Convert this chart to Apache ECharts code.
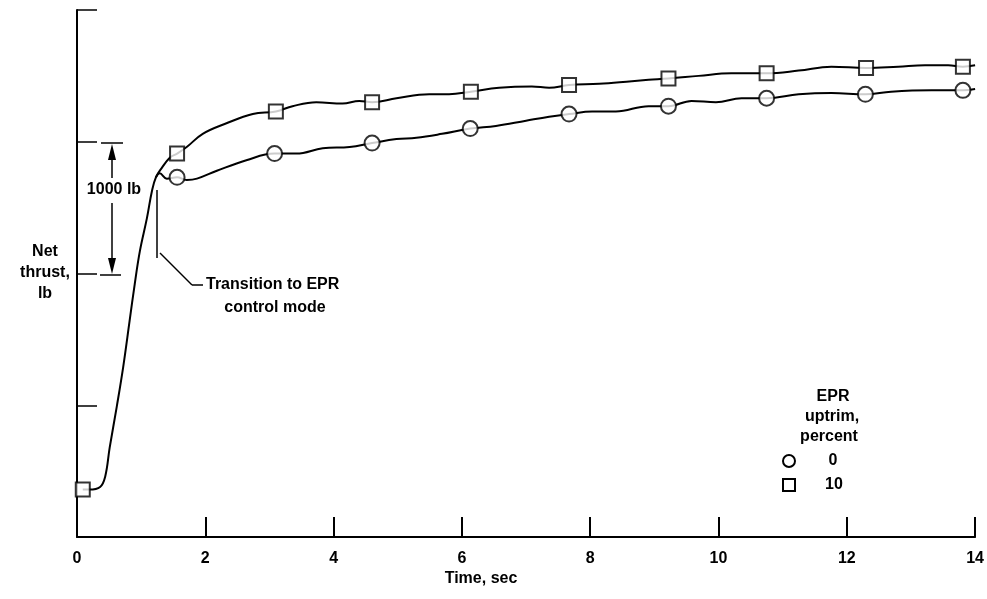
<!DOCTYPE html>
<html>
<head>
<meta charset="utf-8">
<script src="https://cdn.jsdelivr.net/npm/echarts@6/dist/echarts.min.js"></script>
<style>
  html, body { margin: 0; padding: 0; background: #fff; }
  #main { width: 987px; height: 599px; }
</style>
</head>
<body>
<div id="main"></div>
<script>
// time ticks (sec)
var timeTicks = [0, 2, 4, 6, 8, 10, 12, 14];

// traced curve, 10 percent uptrim (thrust in 1000 lb above axis origin)
var curve10T = [0.09, 0.19, 0.36, 0.44, 0.51, 0.62, 0.72, 0.82, 0.90, 0.98, 1.09, 1.17, 1.23, 1.32, 1.45, 1.56, 1.71, 1.96, 2.33, 2.74, 3.10, 3.36, 3.73, 4.14, 4.40, 4.60, 4.98, 5.49, 5.80, 6.14, 6.58, 7.09, 7.36, 7.67, 8.14, 8.65, 8.91, 9.22, 9.69, 10.20, 10.75, 11.25, 11.76, 12.30, 12.80, 13.22, 13.58, 13.81, 14.0];
var curve10Y = [0.36, 0.36, 0.38, 0.46, 0.68, 0.99, 1.29, 1.64, 1.92, 2.17, 2.42, 2.63, 2.73, 2.80, 2.88, 2.91, 2.96, 3.06, 3.14, 3.21, 3.23, 3.27, 3.30, 3.29, 3.31, 3.30, 3.33, 3.36, 3.36, 3.38, 3.41, 3.42, 3.41, 3.43, 3.44, 3.46, 3.47, 3.48, 3.50, 3.52, 3.52, 3.54, 3.57, 3.56, 3.57, 3.58, 3.58, 3.57, 3.58];

// traced curve, 0 percent uptrim (leaves the common rise near 1.2 sec)
var curve0T = [1.23, 1.29, 1.40, 1.56, 1.71, 1.87, 2.18, 2.64, 3.08, 3.42, 3.83, 4.25, 4.60, 4.98, 5.29, 5.69, 6.13, 6.53, 7.00, 7.36, 7.67, 8.03, 8.40, 8.91, 9.22, 9.58, 9.96, 10.36, 10.75, 11.25, 11.76, 12.29, 12.69, 13.32, 13.81, 14.0];
var curve0Y = [2.73, 2.76, 2.72, 2.73, 2.71, 2.72, 2.78, 2.86, 2.91, 2.91, 2.95, 2.96, 2.99, 3.02, 3.03, 3.06, 3.10, 3.12, 3.16, 3.19, 3.21, 3.23, 3.23, 3.27, 3.27, 3.31, 3.30, 3.33, 3.33, 3.36, 3.37, 3.36, 3.38, 3.39, 3.39, 3.40];

// plotted symbols
var squareT = [0.09, 1.56, 3.10, 4.60, 6.14, 7.67, 9.22, 10.75, 12.30, 13.81];
var squareY = [0.36, 2.91, 3.23, 3.30, 3.38, 3.43, 3.48, 3.52, 3.56, 3.57];
var circleT = [1.56, 3.08, 4.60, 6.13, 7.67, 9.22, 10.75, 12.29, 13.81];
var circleY = [2.73, 2.91, 2.99, 3.10, 3.21, 3.27, 3.33, 3.36, 3.39];

function zip(a, b) {
  return a.map(function (v, i) { return [v, b[i]]; });
}

var font = 'Liberation Sans, Arial, sans-serif';
var chart = echarts.init(document.getElementById('main'));

function txt(x, y, s, align) {
  return {
    type: 'text', x: x, y: y,
    style: {
      text: s, fill: '#000', font: 'bold 16px ' + font,
      textAlign: align || 'center', textVerticalAlign: 'middle'
    }
  };
}
function seg(x1, y1, x2, y2, w) {
  return {
    type: 'line',
    shape: { x1: x1, y1: y1, x2: x2, y2: y2 },
    style: { stroke: '#000', lineWidth: w || 1.5 }
  };
}

var option = {
  backgroundColor: '#fff',
  animation: false,
  grid: { left: 77, right: 10, top: 10, bottom: 62 },
  xAxis: {
    type: 'value', min: 0, max: 14, interval: 2,
    axisLine: { lineStyle: { color: '#000', width: 2 } },
    axisTick: { inside: true, length: 20, lineStyle: { color: '#000', width: 2 } },
    axisLabel: {
      color: '#000', fontSize: 16, fontWeight: 'bold', fontFamily: font, margin: 14,
      formatter: function (v) { return timeTicks.indexOf(v) >= 0 ? String(v) : ''; }
    },
    splitLine: { show: false }
  },
  yAxis: {
    type: 'value', min: 0, max: 4, interval: 1,
    axisLine: { show: true, lineStyle: { color: '#000', width: 2 } },
    axisTick: { show: true, inside: true, length: 20, lineStyle: { color: '#000', width: 1.5 } },
    axisLabel: { show: false },
    splitLine: { show: false }
  },
  series: [
    {
      type: 'line', data: zip(curve10T, curve10Y), smooth: 0.4,
      showSymbol: false, lineStyle: { color: '#000', width: 2 }, silent: true
    },
    {
      type: 'line', data: zip(curve0T, curve0Y), smooth: 0.4,
      showSymbol: false, lineStyle: { color: '#000', width: 2 }, silent: true
    },
    {
      name: '10', type: 'scatter', data: zip(squareT, squareY),
      symbol: 'rect', symbolSize: 14, z: 5,
      itemStyle: { color: '#fff', borderColor: '#000', borderWidth: 2 }
    },
    {
      name: '0', type: 'scatter', data: zip(circleT, circleY),
      symbol: 'circle', symbolSize: 15, z: 5,
      itemStyle: { color: '#fff', borderColor: '#000', borderWidth: 2 }
    }
  ],
  graphic: [
    // y axis title
    txt(45, 252, 'Net'),
    txt(45, 273, 'thrust,'),
    txt(45, 294, 'lb'),
    // x axis title
    txt(481, 579, 'Time, sec'),
    // 1000 lb scale marker
    seg(101, 143, 123, 143),
    seg(100, 275, 121, 275),
    seg(112, 155, 112, 178),
    seg(112, 203, 112, 262),
    { type: 'polygon', shape: { points: [[112, 144], [108, 160], [116, 160]] }, style: { fill: '#000' } },
    { type: 'polygon', shape: { points: [[112, 274], [108, 258], [116, 258]] }, style: { fill: '#000' } },
    txt(114, 190, '1000 lb'),
    // transition note
    seg(157, 190, 157, 258),
    seg(160, 253, 192, 285),
    seg(192, 285, 203, 285),
    txt(206, 285, 'Transition to EPR', 'left'),
    txt(275, 308, 'control mode'),
    // legend
    txt(833, 397, 'EPR'),
    txt(832, 417, 'uptrim,'),
    txt(829, 437, 'percent'),
    { type: 'circle', shape: { cx: 789, cy: 461, r: 6 }, style: { fill: '#fff', stroke: '#000', lineWidth: 2 } },
    { type: 'rect', shape: { x: 783, y: 479, width: 12, height: 12 }, style: { fill: '#fff', stroke: '#000', lineWidth: 2 } },
    txt(833, 461, '0'),
    txt(834, 485, '10')
  ]
};

chart.setOption(option);
</script>
</body>
</html>
